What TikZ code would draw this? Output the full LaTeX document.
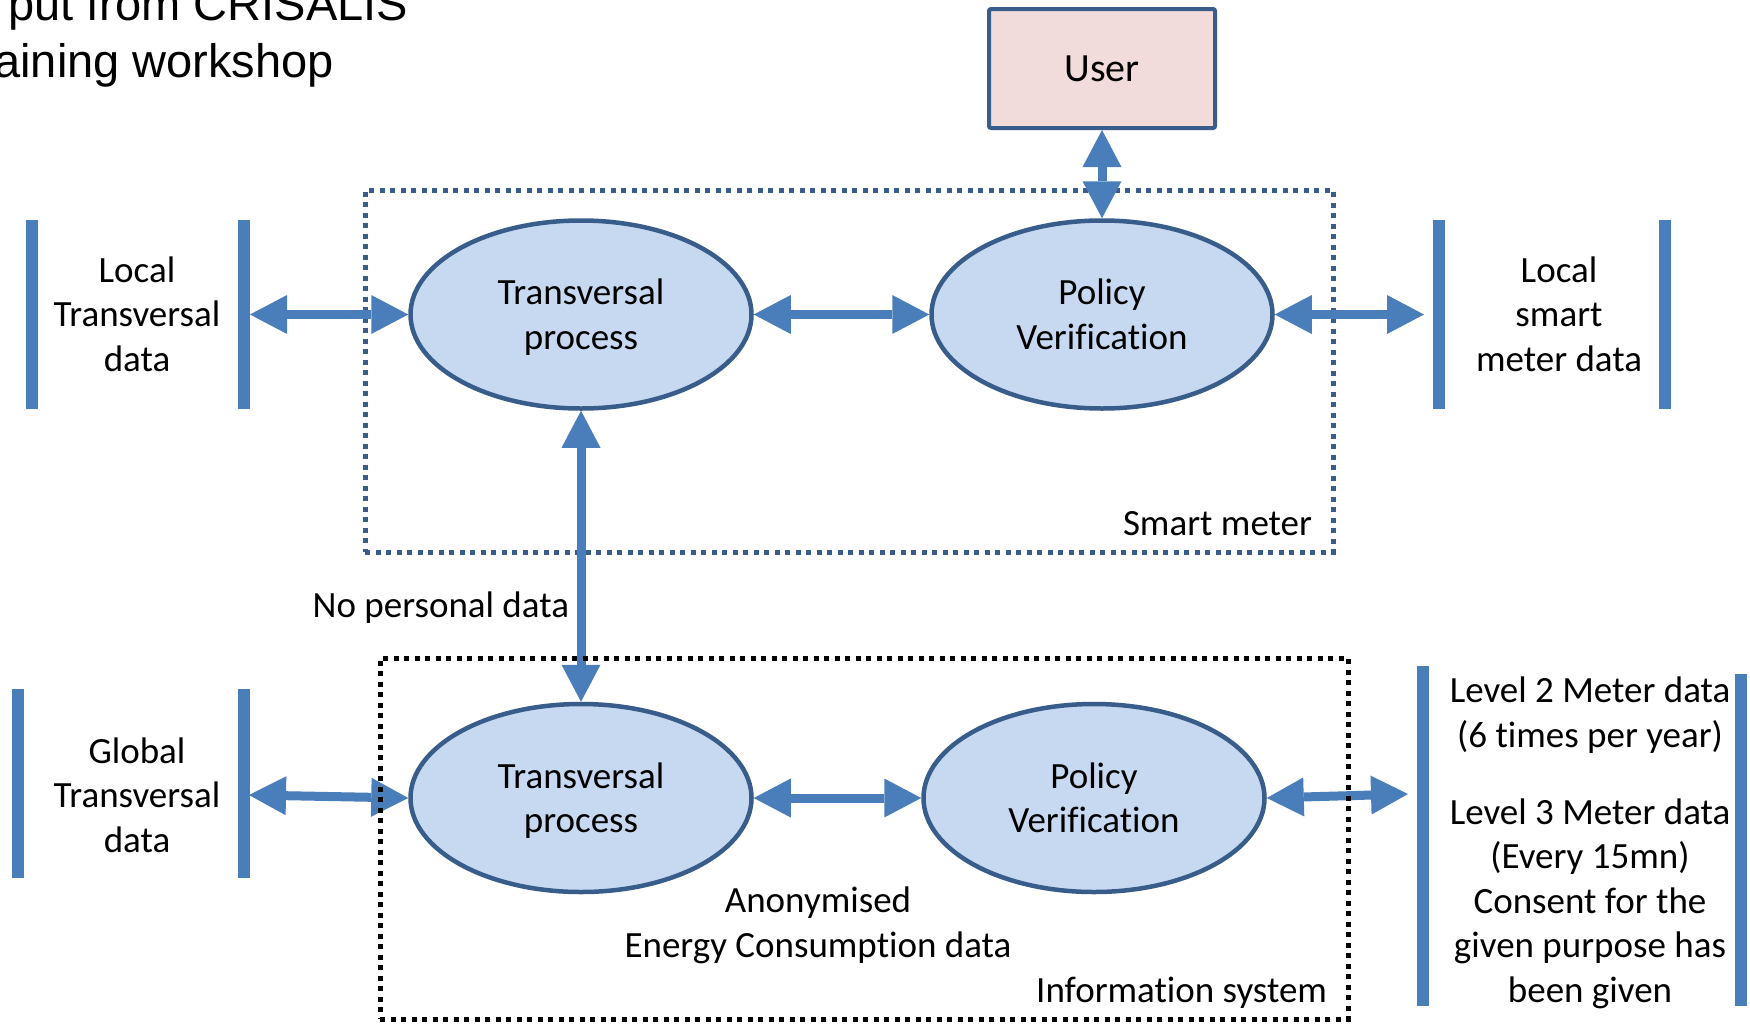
\documentclass[tikz,border=0pt]{standalone}
\usepackage{fontspec}
\setmainfont{Carlito}[Ligatures=NoCommon]
\newfontfamily\titlefont{Liberation Sans}
\usetikzlibrary{arrows.meta,shapes.geometric}

\definecolor{flowblue}{RGB}{74,126,187}
\definecolor{edgeblue}{RGB}{56,93,138}
\definecolor{procfill}{RGB}{198,217,241}
\definecolor{userfill}{RGB}{242,220,219}

\begin{document}
\begin{tikzpicture}[x=1pt,y=-1pt,
  every node/.style={inner sep=0pt, outer sep=0pt},
  txt/.style={font=\fontsize{37}{44.5}\selectfont, align=center},
  proc/.style={ellipse, draw=edgeblue, line width=4.5pt, fill=procfill,
    minimum width=341pt, minimum height=188pt, align=center,
    text height=69pt, text depth=0pt,
    font=\fontsize{37}{44.5}\selectfont, outer sep=2.25pt},
  userbox/.style={rectangle, draw=edgeblue, line width=4pt, fill=userfill,
    rounded corners=2pt, minimum width=226pt, minimum height=119pt,
    font=\fontsize{40}{48}\selectfont, outer sep=2pt},
  store/.style={rectangle, fill=flowblue, minimum width=12pt},
  frame/.style={rectangle, line width=5pt, dash pattern=on 5pt off 5.5pt},
  link/.style={draw=flowblue, line width=9pt,
    {Triangle[length=37pt,width=39pt,line width=0pt]}-{Triangle[length=37pt,width=39pt,line width=0pt]}}
]
\useasboundingbox (0,0) rectangle (1750,1023);
\fill[white] (0,0) rectangle (1750,1023);
\clip (0,0) rectangle (1750,1023);

% heading, cut off at the top-left corner
\node[anchor=base east, font=\titlefont\fontsize{47}{54}\selectfont] (head1) at (408,20) {put from CRISALIS};
\node[anchor=base east, font=\titlefont\fontsize{47}{54}\selectfont] (head2) at (334,77) {aining workshop};

% smart meter boundary
\node[frame, draw=edgeblue, minimum width=968pt, minimum height=362pt] (smartmeter) at (849,371) {};
\node[txt, anchor=base east] (smlabel) at (1312,535) {Smart meter};

% processes
\node[userbox] (user) at (1102,68.5) {User};
\node[proc] (tp1) at (581,314.5) {Transversal\\process};
\node[proc] (pv1) at (1102,314.5) {Policy\\Verification};
\node[proc] (tp2) at (581,798) {Transversal\\process};
\node[proc] (pv2) at (1094,798) {Policy\\Verification};

% data stores (labels anchored on the baseline of their last line)
\node[store, minimum height=189pt] (ltA) at (32,314.5) {};
\node[store, minimum height=189pt] (ltB) at (244,314.5) {};
\node[txt, anchor=base] (ltlabel) at (137,371) {Local\\Transversal\\data};

\node[store, minimum height=189pt] (lsA) at (1439,314.5) {};
\node[store, minimum height=189pt] (lsB) at (1665,314.5) {};
\node[txt, anchor=base] (lslabel) at (1559,371) {Local\\smart\\meter data};

\node[store, minimum height=189pt] (gtA) at (17.5,783.5) {};
\node[store, minimum height=189pt] (gtB) at (244,783.5) {};
\node[txt, anchor=base] (gtlabel) at (137,852) {Global\\Transversal\\data};

\node[store, minimum height=340pt] (mdA) at (1423,836) {};
\node[store, minimum height=332pt] (mdB) at (1741,840) {};
\node[txt, anchor=base] (mdlabel1) at (1590,747) {Level 2 Meter data\\(6 times per year)};
\node[txt, anchor=base] (mdlabel2) at (1590,1002) {Level 3 Meter data\\(Every 15mn)\\Consent for the\\given purpose has\\been given};

% loose connector ends in front of the stores
\coordinate (gtend) at (249,795);
\coordinate (lsend) at (1424,314.5);
\coordinate (mdend) at (1408,794);

% connectors
\draw[link] (user.south) -- (pv1.north);
\draw[link] (ltB.east) -- (tp1.west);
\draw[link] (tp1.east) -- (pv1.west);
\draw[link] (pv1.east) -- (lsend);
\draw[link] (tp1.south) -- (tp2.north);
\draw[link] (gtend) -- (tp2.west);
\draw[link] (tp2.east) -- (pv2.west);
\draw[link] (pv2.east) -- (mdend);

\node[txt, anchor=base east] (nolabel) at (569,617) {No personal data};

% information system boundary
\node[frame, draw=black, minimum width=968pt, minimum height=361pt] (infosys) at (864,838.5) {};
\node[txt, anchor=base] (anonlabel) at (818,957) {Anonymised\\Energy Consumption data};
\node[txt, anchor=base east] (islabel) at (1327,1002) {Information system};
\end{tikzpicture}
\end{document}
